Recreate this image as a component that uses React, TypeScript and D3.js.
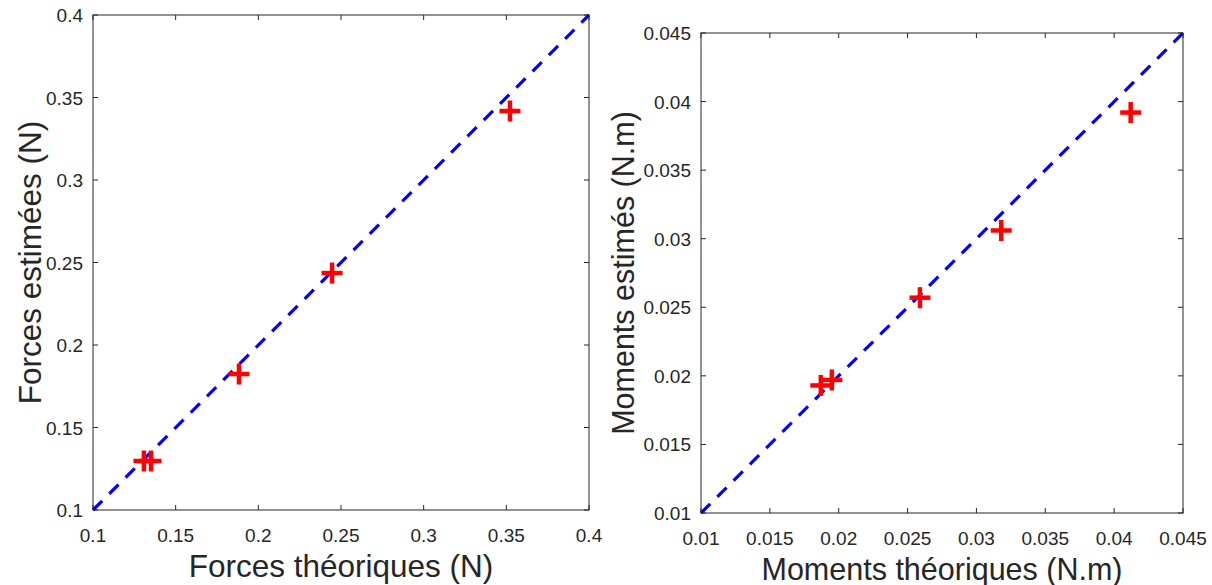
import React from "react";
import * as d3 from "d3";

const forceTheo = [0.1308, 0.1351, 0.1883, 0.2446, 0.3522];
const forceEst = [0.1297, 0.1297, 0.1824, 0.2436, 0.3418];
const forceTicks = [0.1, 0.15, 0.2, 0.25, 0.3, 0.35, 0.4];
const forceTickLabels = ["0.1", "0.15", "0.2", "0.25", "0.3", "0.35", "0.4"];

const momentTheo = [0.0187, 0.0195, 0.0259, 0.0318, 0.0412];
const momentEst = [0.0193, 0.0197, 0.0257, 0.0306, 0.0392];
const momentTicks = [0.01, 0.015, 0.02, 0.025, 0.03, 0.035, 0.04, 0.045];
const momentTickLabels = ["0.01", "0.015", "0.02", "0.025", "0.03", "0.035", "0.04", "0.045"];

const AX = "#262626";
const FONT = "'Liberation Sans', Arial, Helvetica, sans-serif";

type PanelProps = {
  x0: number; x1: number; y0: number; y1: number;
  domain: [number, number];
  ticks: number[]; labels: string[];
  xs: number[]; ys: number[];
  xLabel: string; yLabel: string;
  yLabelX: number; labelSize: number;
};

function Panel(p: PanelProps) {
  const x = d3.scaleLinear().domain(p.domain).range([p.x0, p.x1]);
  const y = d3.scaleLinear().domain(p.domain).range([p.y1, p.y0]);
  const tl = 5;
  const midX = (p.x0 + p.x1) / 2;
  const midY = (p.y0 + p.y1) / 2;
  return (
    <g>
      <line x1={x(p.domain[0])} y1={y(p.domain[0])} x2={x(p.domain[1])} y2={y(p.domain[1])}
        stroke="#0000ff" strokeWidth={3.2} strokeDasharray="13,10" />
      {p.xs.map((v, i) => {
        const cx = x(v), cy = y(p.ys[i]);
        return (
          <g key={i} stroke="#ff0000" strokeWidth={4.5}>
            <line x1={cx - 10.5} x2={cx + 10.5} y1={cy} y2={cy} />
            <line x1={cx} x2={cx} y1={cy - 10.5} y2={cy + 10.5} />
          </g>
        );
      })}
      <rect x={p.x0} y={p.y0} width={p.x1 - p.x0} height={p.y1 - p.y0} fill="none" stroke={AX} strokeWidth={1} />
      {p.ticks.map((t, i) => (
        <g key={i}>
          <line x1={x(t)} x2={x(t)} y1={p.y1} y2={p.y1 - tl} stroke={AX} />
          <line x1={x(t)} x2={x(t)} y1={p.y0} y2={p.y0 + tl} stroke={AX} />
          <line x1={p.x0} x2={p.x0 + tl} y1={y(t)} y2={y(t)} stroke={AX} />
          <line x1={p.x1} x2={p.x1 - tl} y1={y(t)} y2={y(t)} stroke={AX} />
          <text x={x(t)} y={p.y1 + 32} textAnchor="middle" fontSize={19} fill={AX} fontFamily={FONT}>{p.labels[i]}</text>
          <text x={p.x0 - 10} y={y(t) + 7} textAnchor="end" fontSize={19} fill={AX} fontFamily={FONT}>{p.labels[i]}</text>
        </g>
      ))}
      <text x={midX} y={p.y1 + 67} textAnchor="middle" fontSize={p.labelSize} fill={AX} fontFamily={FONT}>{p.xLabel}</text>
      <text transform={`translate(${p.yLabelX},${midY}) rotate(-90)`} textAnchor="middle" fontSize={p.labelSize} fill={AX} fontFamily={FONT}>{p.yLabel}</text>
    </g>
  );
}

export default function App() {
  return (
    <svg width={1212} height={585} style={{ position: "absolute", left: 0, top: 0, background: "#fff" }}>
      <rect width={1212} height={585} fill="#fff" />
      <Panel x0={93} x1={589} y0={15} y1={510} domain={[0.1, 0.4]} ticks={forceTicks} labels={forceTickLabels}
        xs={forceTheo} ys={forceEst} xLabel="Forces théoriques (N)" yLabel="Forces estimées (N)" yLabelX={41} labelSize={31.5} />
      <Panel x0={701} x1={1183} y0={33} y1={513} domain={[0.01, 0.045]} ticks={momentTicks} labels={momentTickLabels}
        xs={momentTheo} ys={momentEst} xLabel="Moments théoriques (N.m)" yLabel="Moments estimés (N.m)" yLabelX={634} labelSize={30.5} />
    </svg>
  );
}
